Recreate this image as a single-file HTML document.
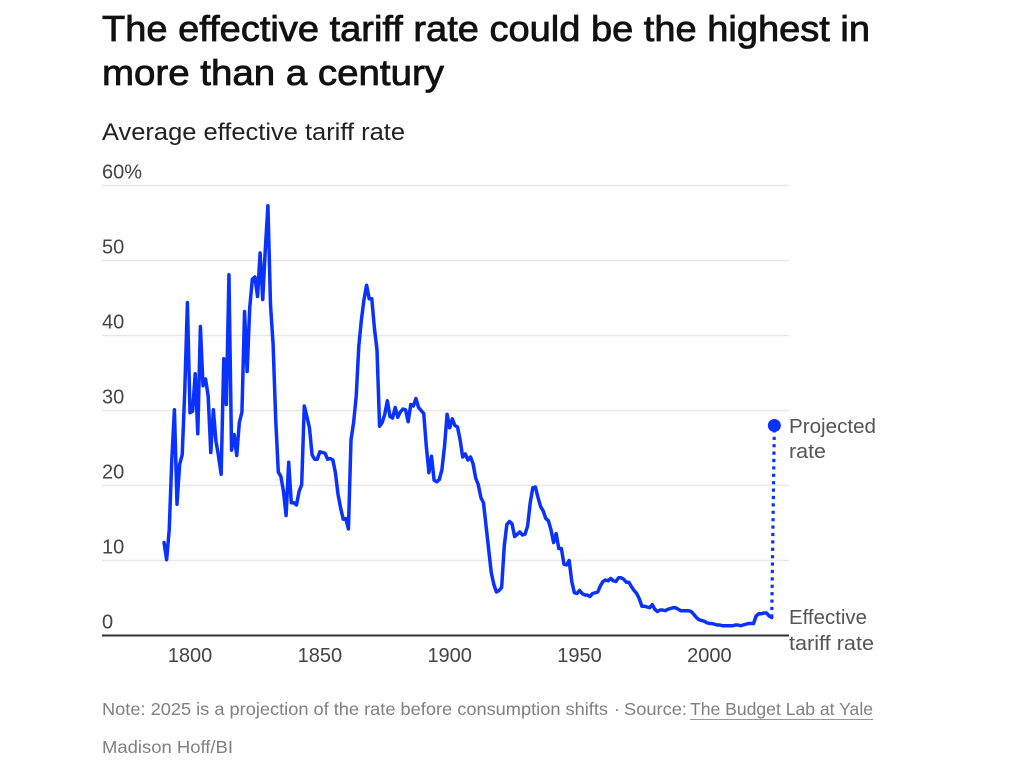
<!DOCTYPE html>
<html lang="en">
<head>
<meta charset="utf-8">
<title>The effective tariff rate could be the highest in more than a century</title>
<style>
  html, body { margin: 0; padding: 0; background: #fff; }
  body { width: 1019px; height: 774px; overflow: hidden; }
  svg { display: block; }
  text { font-family: "Liberation Sans", sans-serif; }
  .title { font-size: 36px; font-weight: 400; fill: #111; stroke: #111; stroke-width: 0.8px; }
  .subtitle { font-size: 24px; fill: #222; }
  .tick { font-size: 20px; fill: #444; }
  .side { font-size: 20px; fill: #555; }
  .foot { font-size: 17.5px; fill: #808080; }
</style>
</head>
<body>
<svg id="chart" width="1019" height="774" viewBox="0 0 1019 774">
  <text class="title" x="102" y="41" textLength="768" lengthAdjust="spacingAndGlyphs">The effective tariff rate could be the highest in</text>
  <text class="title" x="102" y="85" textLength="342" lengthAdjust="spacingAndGlyphs">more than a century</text>
  <text class="subtitle" x="102" y="140" textLength="303" lengthAdjust="spacingAndGlyphs">Average effective tariff rate</text>

  <g id="grid"></g>
  <g id="yLabels"></g>
  <g id="xLabels"></g>
  <line x1="102" x2="789" y1="635.5" y2="635.5" stroke="#333" stroke-width="2"></line>

  <path id="seriesLine" fill="none" stroke="#0a32ff" stroke-width="3.5" stroke-linejoin="round" stroke-linecap="round"></path>
  <line id="projectionLine" stroke="#0a32ff" stroke-width="3.2" stroke-dasharray="3.2 4.2"></line>
  <circle id="projectionDot" r="6.5" fill="#0a32ff"></circle>

  <text class="side" x="789" y="433" textLength="87" lengthAdjust="spacingAndGlyphs">Projected</text>
  <text class="side" x="789" y="458" textLength="37" lengthAdjust="spacingAndGlyphs">rate</text>
  <text class="side" x="789" y="624" textLength="78" lengthAdjust="spacingAndGlyphs">Effective</text>
  <text class="side" x="789" y="650" textLength="85" lengthAdjust="spacingAndGlyphs">tariff rate</text>

  <text class="foot" x="102" y="715" textLength="506" lengthAdjust="spacingAndGlyphs">Note: 2025 is a projection of the rate before consumption shifts</text>
  <text class="foot" x="614" y="715">·</text>
  <text class="foot" x="624" y="715" textLength="63" lengthAdjust="spacingAndGlyphs">Source:</text>
  <text class="foot" x="690" y="715" textLength="183" lengthAdjust="spacingAndGlyphs">The Budget Lab at Yale</text>
  <line x1="690" x2="873" y1="719.5" y2="719.5" stroke="#999" stroke-width="1"></line>
  <text class="foot" x="102" y="753" textLength="131" lengthAdjust="spacingAndGlyphs">Madison Hoff/BI</text>
</svg>

<script>
var firstYear = 1790;
var rateValues = [
  12.4,10.1,14.1,23.5,30.1,17.5,22.8,24.1,32.8,44.4,
  29.7,29.9,34.9,26.9,41.2,33.3,34.2,31.9,24.4,30.1,
  25.9,23.9,21.5,36.9,30.8,48.1,24.7,26.8,24.0,28.4,
  29.8,43.2,35.2,43.7,47.5,47.8,45.2,51.0,44.8,51.5,
  57.3,44.1,38.8,28.8,21.8,21.2,19.2,16.0,23.1,17.7,
  17.7,17.4,19.2,20.1,30.6,29.2,27.7,24.1,23.5,23.5,
  24.5,24.4,24.3,23.5,23.6,23.4,21.7,18.8,17.0,15.5,
  15.6,14.2,26.1,28.4,31.9,38.6,42.1,44.8,46.7,44.9,
  44.9,41.0,38.1,27.9,28.4,29.5,31.3,29.2,29.0,30.4,
  29.1,29.8,30.2,30.1,28.5,30.8,30.6,31.6,30.4,30.0,
  29.6,25.2,21.7,23.9,20.7,20.5,20.8,22.1,25.2,29.5,
  27.7,28.9,28.0,27.8,26.1,23.8,24.2,23.4,23.8,22.9,
  21.0,20.1,18.4,17.7,14.6,11.5,8.4,6.8,5.8,6.0,
  6.4,11.9,14.8,15.2,14.9,13.2,13.5,13.8,13.4,13.5,
  14.6,17.7,19.7,19.8,18.4,17.2,16.6,15.6,15.3,14.1,
  12.4,13.6,11.6,11.6,9.5,9.4,10.0,7.2,5.7,5.6,
  6.0,5.6,5.4,5.4,5.2,5.6,5.7,5.8,6.6,7.2,
  7.4,7.3,7.6,7.3,7.2,7.7,7.7,7.5,7.1,7.1,
  6.5,6.0,5.6,4.9,3.9,3.9,3.8,3.7,4.1,3.5,
  3.2,3.4,3.4,3.3,3.5,3.6,3.7,3.7,3.5,3.3,
  3.3,3.3,3.3,3.2,2.8,2.4,2.1,2.0,1.9,1.7,
  1.6,1.6,1.5,1.4,1.4,1.3,1.3,1.3,1.3,1.3,
  1.4,1.4,1.3,1.4,1.5,1.6,1.6,1.6,2.6,2.9,
  2.9,3.0,3.0,2.6,2.4
];
var projectedYear = 2025;
var projectedValue = 28.0;
var yTicks = [0, 10, 20, 30, 40, 50, 60];
var yTickLabels = ["0", "10", "20", "30", "40", "50", "60%"];
var xTicks = [1800, 1850, 1900, 1950, 2000];
var xTickLabels = ["1800", "1850", "1900", "1950", "2000"];

var SVG_NS = "http://www.w3.org/2000/svg";

function xScale(year) {
  return 190 + (year - 1800) * 2.597;
}
function yScale(value) {
  return 635.5 - value * 7.5;
}

var gridGroup = document.getElementById("grid");
var yLabelGroup = document.getElementById("yLabels");
var xLabelGroup = document.getElementById("xLabels");

yTicks.forEach(function (tick, i) {
  if (tick !== 0) {
    var line = document.createElementNS(SVG_NS, "line");
    line.setAttribute("x1", 102);
    line.setAttribute("x2", 789);
    line.setAttribute("y1", yScale(tick));
    line.setAttribute("y2", yScale(tick));
    line.setAttribute("stroke", "#e8e8e8");
    line.setAttribute("stroke-width", "1.5");
    
    
    gridGroup.appendChild(line);
  }
  var label = document.createElementNS(SVG_NS, "text");
  label.setAttribute("class", "tick");
  label.setAttribute("x", 102);
  label.setAttribute("y", yScale(tick) - 7);
  label.textContent = yTickLabels[i];
  
  
  yLabelGroup.appendChild(label);
});

xTicks.forEach(function (tick, i) {
  var label = document.createElementNS(SVG_NS, "text");
  label.setAttribute("class", "tick");
  label.setAttribute("x", xScale(tick));
  label.setAttribute("y", 662);
  label.setAttribute("text-anchor", "middle");
  label.textContent = xTickLabels[i];
  
  
  xLabelGroup.appendChild(label);
});

var pathData = rateValues.map(function (value, i) {
  return (i === 0 ? "M" : "L") + xScale(firstYear + i).toFixed(2) + " " + yScale(value).toFixed(2);
}).join(" ");
document.getElementById("seriesLine").setAttribute("d", pathData);

var lastIndex = rateValues.length - 1;
var projectionLine = document.getElementById("projectionLine");
projectionLine.setAttribute("x1", xScale(firstYear + lastIndex));
projectionLine.setAttribute("y1", yScale(rateValues[lastIndex]));
projectionLine.setAttribute("x2", xScale(projectedYear));
projectionLine.setAttribute("y2", yScale(projectedValue));

var projectionDot = document.getElementById("projectionDot");
projectionDot.setAttribute("cx", xScale(projectedYear));
projectionDot.setAttribute("cy", yScale(projectedValue));
</script>
</body>
</html>
